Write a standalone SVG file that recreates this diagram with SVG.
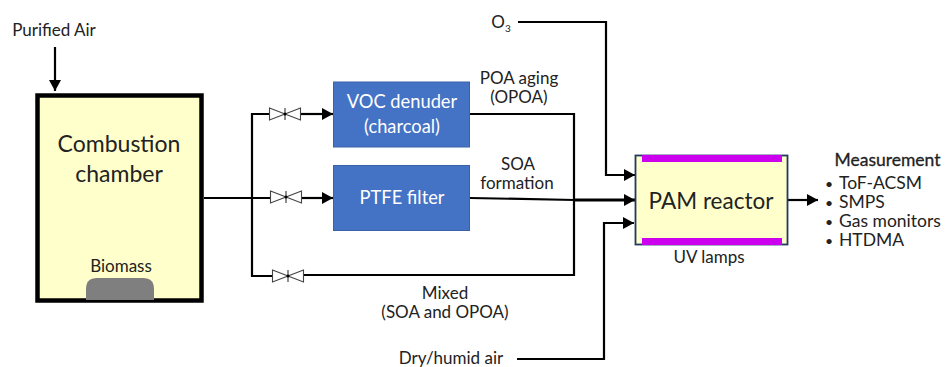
<svg xmlns="http://www.w3.org/2000/svg" width="945" height="367" viewBox="0 0 945 367">
<style>
text{font-family:Lato,"Open Sans","Liberation Sans",sans-serif;fill:#222;text-anchor:middle}
.s{font-size:17px}
.m{font-size:17.500px;stroke:#222;stroke-width:.3}
.l{font-size:23px}
.p{font-size:22.500px}
.w{fill:#fff;font-size:18.300px}
.b{font-size:17.500px;text-anchor:start}
.d{font-size:14px;text-anchor:start}
.c{fill:none;stroke:#000;stroke-width:2.2}
.t{fill:none;stroke:#000;stroke-width:3}
.v{fill:#fff;stroke:#444;stroke-width:1.1}
.box{fill:#4472c4;stroke:#3b62a8;stroke-width:1}
</style>
<defs>
<marker id="a" markerUnits="userSpaceOnUse" markerWidth="12" markerHeight="12" refX="11" refY="6" orient="auto"><path d="M0 0L11 6L0 12z" fill="#000"/></marker>
<g id="valve"><path class="v" d="M-15.500 -6L0 0L-15.500 6zM15.500 -6L0 0L15.500 6z"/><path d="M0 -6V6" stroke="#333" stroke-width="1.100"/><circle r="1.500" fill="#000"/></g>
</defs>
<g id="connectors">
<path class="c" marker-end="url(#a)" d="M55 47V91"/>
<path class="c" d="M204 198H271"/>
<path class="c" d="M269 114H252V276H272"/>
<path class="c" marker-end="url(#a)" d="M301 114H333"/>
<path class="c" marker-end="url(#a)" d="M302 198H333"/>
<path class="c" d="M470 114H574V275H304"/>
<path class="c" d="M470 198L575 200"/>
<path class="t" marker-end="url(#a)" d="M575 200H635"/>
<path class="c" marker-end="url(#a)" d="M518 22H606V175H635"/>
<path class="c" marker-end="url(#a)" d="M517 359H604V223H634"/>
<path class="c" marker-end="url(#a)" d="M788 200H818"/>
</g>
<g id="valve1"><use href="#valve" x="285" y="114"/></g>
<g id="valve2"><use href="#valve" x="286" y="197"/></g>
<g id="valve3"><use href="#valve" x="288" y="276"/></g>
<g id="combustion-chamber">
<rect x="37.500" y="95.500" width="164" height="205" fill="#ffffcc" stroke="#000" stroke-width="4.500"/>
<text class="l" x="119" y="152">Combustion</text>
<text class="l" x="119" y="182">chamber</text>
</g>
<g id="biomass">
<path d="M86 300V289Q86 278 97 278H143Q154 278 154 289V300z" fill="#7f7f7f"/>
<text class="s" x="121" y="272">Biomass</text>
</g>
<g id="purified-air"><text class="s" x="54" y="36">Purified Air</text></g>
<g id="voc-denuder">
<rect class="box" x="333.500" y="82" width="136" height="65"/>
<text class="w" x="402" y="108">VOC denuder</text>
<text class="w" x="402" y="133">(charcoal)</text>
</g>
<g id="ptfe-filter">
<rect class="box" x="333.500" y="165.500" width="136" height="65"/>
<text class="w" x="402" y="204">PTFE filter</text>
</g>
<g id="poa-label"><text class="s" x="519" y="84">POA aging</text><text class="s" x="519" y="103">(OPOA)</text></g>
<g id="soa-label"><text class="s" x="518" y="170">SOA</text><text class="s" x="517" y="189">formation</text></g>
<g id="mixed-label"><text class="s" x="445" y="299">Mixed</text><text class="s" x="445" y="318">(SOA and OPOA)</text></g>
<g id="o3"><text class="s" x="501" y="28">O<tspan font-size="10" dy="4">3</tspan></text></g>
<g id="dry-humid-air"><text class="s" x="451" y="364">Dry/humid air</text></g>
<g id="pam-reactor">
<rect x="635.500" y="155.500" width="152" height="89" fill="#ffffcc" stroke="#1f3a5f" stroke-width="1.800"/>
<rect x="642" y="155" width="140" height="7" fill="#cc00ee"/>
<rect x="642" y="238" width="140" height="7" fill="#cc00ee"/>
<text class="p" x="711" y="209">PAM reactor</text>
</g>
<g id="uv-lamps"><text class="s" x="709" y="263">UV lamps</text></g>
<g id="measurement">
<text class="m" x="887.500" y="166">Measurement</text>
<text class="d" x="825" y="189">•</text><text class="b" x="839" y="189">ToF-ACSM</text>
<text class="d" x="825" y="208">•</text><text class="b" x="839" y="208">SMPS</text>
<text class="d" x="825" y="227">•</text><text class="b" x="839" y="227">Gas monitors</text>
<text class="d" x="825" y="246">•</text><text class="b" x="839" y="246">HTDMA</text>
</g>
</svg>
